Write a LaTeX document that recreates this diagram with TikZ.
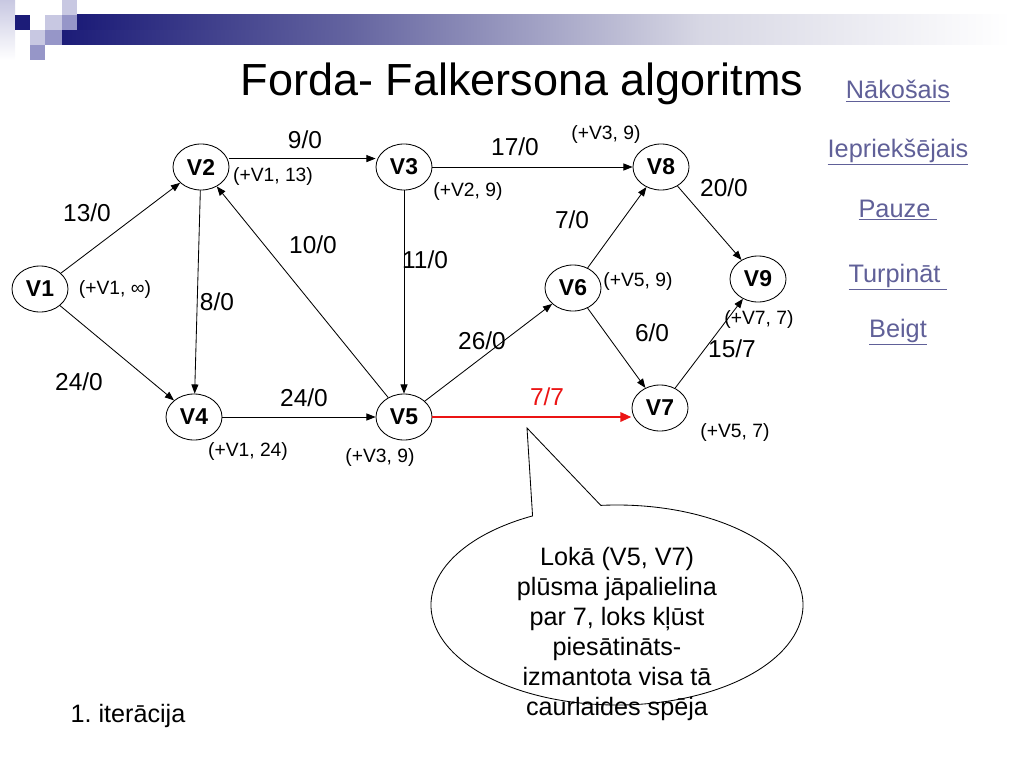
\documentclass[tikz,border=0pt]{standalone}
\usepackage{fontspec}
\setmainfont{Liberation Sans}
\usetikzlibrary{arrows.meta,shapes.geometric}
\frenchspacing

\definecolor{navy}{RGB}{28,28,120}
\definecolor{barmid}{RGB}{100,100,160}
\definecolor{barlight}{RGB}{215,215,228}
\definecolor{lavlight}{RGB}{200,200,226}
\definecolor{lavmid}{RGB}{150,150,200}
\definecolor{linkc}{RGB}{96,96,152}
\definecolor{flowred}{RGB}{235,20,20}

\tikzset{
    vert/.style={ellipse, draw, line width=0.6pt, minimum width=1.4cm, minimum height=1.15cm,
        inner sep=0pt, font=\fontsize{16.3}{18}\selectfont\bfseries},
    flowlbl/.style={font=\fontsize{17.4}{20}\selectfont, inner sep=0pt},
    lbl/.style={font=\fontsize{13.7}{16}\selectfont, inner sep=0pt},
    navlink/.style={font=\fontsize{18}{21}\selectfont, text=linkc, inner sep=0pt, anchor=base},
}

\begin{document}
\begin{tikzpicture}[x=0.025cm, y=-0.025cm, >={Triangle[length=6.5pt,width=5pt]}]
    \useasboundingbox (0,0) rectangle (1024,768);

    % slide header
    \shade[top color=lavlight, bottom color=white] (0,0) rectangle (15,60);
    \shade[left color=navy, right color=barmid] (62,30) rectangle (350,45);
    \shade[left color=navy, right color=barmid] (77,15) rectangle (350,30);
    \shade[left color=barmid, right color=barlight] (350,15) rectangle (700,45);
    \shade[left color=barlight, right color=white] (700,15) rectangle (1010,45);
    \fill[lavlight] (62,0) rectangle (77,15);
    \fill[navy] (15,15) rectangle (30,30);
    \fill[lavlight] (45,15) rectangle (62,30);
    \fill[lavmid] (62,15) rectangle (77,30);
    \fill[lavlight] (30,30) rectangle (45,45);
    \fill[lavmid] (45,30) rectangle (62,45);
    \fill[lavmid] (30,45) rectangle (45,60);

    \node[font=\fontsize{32}{36}\selectfont, inner sep=0pt, anchor=base] (title) at (522,96) {Forda- Falkersona algoritms};

    % network
    \node[vert] (v1) at (40,289) {V1};
    \node[vert] (v2) at (201,167) {V2};
    \node[vert] (v3) at (404,167) {V3};
    \node[vert] (v4) at (194,417) {V4};
    \node[vert] (v5) at (404,417) {V5};
    \node[vert] (v6) at (573,288) {V6};
    \node[vert] (v7) at (660,408) {V7};
    \node[vert] (v8) at (661,167) {V8};
    \node[vert] (v9) at (758,279) {V9};

    \foreach \a/\b in {v1/v2, v1/v4, v2/v4, v5/v2, v3/v5, v4/v5, v3/v8, v5/v6, v6/v8, v6/v7, v8/v9, v7/v9}
        \draw[->, line width=0.6pt] (\a) -- (\b);
    \draw[->, line width=0.6pt] ([yshift=6pt]v2.east) -- ([yshift=6pt]v3.west);
    \draw[-{Triangle[length=8pt,width=6.5pt]}, flowred, line width=2pt] (v5.east) -- (v5.east -| v7.west);

    % capacity/flow
    \foreach \x/\y/\t [count=\i] in {305/140/{9/0}, 87/213/{13/0}, 79/382/{24/0}, 217/302/{8/0},
        313/245/{10/0}, 304/398/{24/0}, 425/260/{11/0}, 515/147/{17/0}, 572/220/{7/0},
        724/188/{20/0}, 482/341/{26/0}, 652/333/{6/0}, 732/349/{15/7}}
        \node[flowlbl] (c\i) at (\x,\y) {\t};
    \node[flowlbl, text=flowred] (c14) at (547,397) {7/7};

    % labels
    \foreach \x/\y/\t [count=\i] in {115/290/{(+V1, ∞)}, 273/177/{(+V1, 13)}, 248/452/{(+V1, 24)},
        380/458/{(+V3, 9)}, 468/192/{(+V2, 9)}, 606/135/{(+V3, 9)}, 638/282/{(+V5, 9)},
        759/320/{(+V7, 7)}, 735/433/{(+V5, 7)}}
        \node[lbl] (l\i) at (\x,\y) {\t};

    % links
    \foreach \y/\t [count=\i] in {99/Nākošais, 157/Iepriekšējais, 217/{Pauze\ }, 282/{Turpināt\ }, 337/Beigt}
        \node[navlink] (nav\i) at (898,\y) {\underline{\t}};

    % callout
    \coordinate (callc) at (617,605);
    \coordinate (tip) at (527,428);
    \draw[fill=white, line width=0.6pt] (callc) ++(243:186 and 100)
        arc[start angle=243, end angle=-95, x radius=186, y radius=100] -- (tip) -- cycle;
    \node[font=\fontsize{17.9}{21.3}\selectfont, align=center, inner sep=0pt] (note) at (617,634)
        {Lokā (V5, V7)\\plūsma jāpalielina\\par 7, loks kļūst\\piesātināts-\\izmantota visa tā\\caurlaides spēja};

    \node[font=\fontsize{17.9}{21}\selectfont, inner sep=0pt, anchor=base] (iter) at (128,722) {1. iterācija};
\end{tikzpicture}
\end{document}
